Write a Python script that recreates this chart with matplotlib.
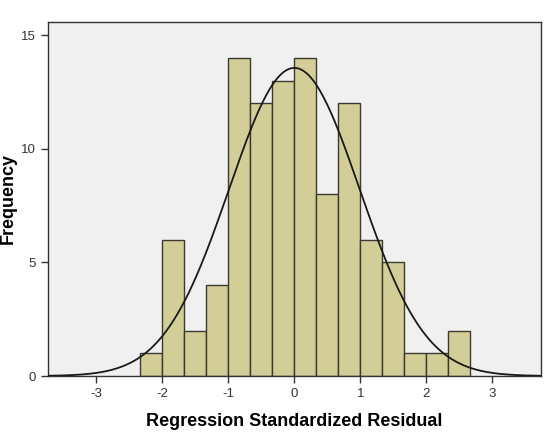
import numpy as np
import matplotlib.pyplot as plt

plt.rcParams['font.family'] = ['Liberation Sans', 'DejaVu Sans']
plt.rcParams['axes.unicode_minus'] = False

# histogram of regression standardized residuals (bin width 1/3)
bin_edges = [-7/3, -2, -5/3, -4/3, -1, -2/3, -1/3, 0, 1/3, 2/3, 1, 4/3, 5/3, 2, 7/3, 8/3]
counts = [1, 6, 2, 4, 14, 12, 13, 14, 8, 12, 6, 5, 1, 1, 2]
resid_mean = 0.0
resid_sd = 0.99
x_ticks = [-3, -2, -1, 0, 1, 2, 3]
y_ticks = [0, 5, 10, 15]

fig = plt.figure(figsize=(5.45, 4.36), dpi=100)
ax = fig.add_axes([0.0875, 0.1376, 0.9052, 0.8126])
ax.set_facecolor('#F0F0F0')

edges = np.array(bin_edges)
widths = np.diff(edges)
ax.bar(edges[:-1], counts, width=widths, align='edge',
       color='#D3CE97', edgecolor='#3A3A30', linewidth=1.0, zorder=2)

# normal curve scaled to counts
n = sum(counts)
bw = widths[0]
xs = np.linspace(-3.75, 3.75, 400)
ys = n * bw / (resid_sd * np.sqrt(2 * np.pi)) * np.exp(-0.5 * ((xs - resid_mean) / resid_sd) ** 2)
ax.plot(xs, ys, color='#1a1a1a', linewidth=1.3, zorder=3)

ax.set_xlim(-3.74, 3.74)
ax.set_ylim(0, 15.6)
ax.set_xticks(x_ticks)
ax.set_yticks(y_ticks)
ax.tick_params(direction='out', length=5, width=1, colors='#333333',
               labelsize=9.5, labelcolor='#333333')
for s in ax.spines.values():
    s.set_color('#333333')
    s.set_linewidth(1.0)

ax.set_xlabel('Regression Standardized Residual', fontsize=13, fontweight='bold')
ax.xaxis.set_label_coords(0.5, -0.105)
ax.set_ylabel('Frequency', fontsize=13, fontweight='bold')
ax.yaxis.set_label_coords(-0.062, 0.5)

fig.savefig('out.png', dpi=100)
